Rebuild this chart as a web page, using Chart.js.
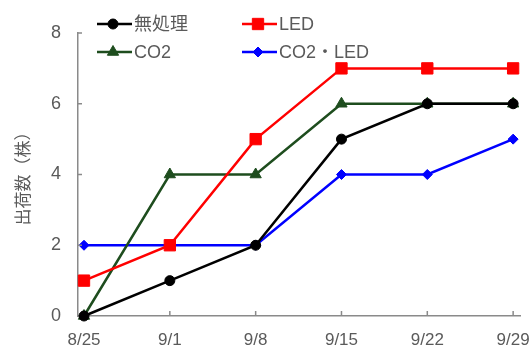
<!DOCTYPE html>
<html>
<head>
<meta charset="utf-8">
<script src="https://cdn.jsdelivr.net/npm/chart.js@4/dist/chart.umd.min.js"></script>
<style>
  html, body { margin: 0; padding: 0; background: #fff; }
  #wrap { width: 532px; height: 347px; }
</style>
</head>
<body>
<div id="wrap"><canvas id="c" width="532" height="347"></canvas></div>
<script>
// Shipment dates (x axis)
const dates = ['8/25', '9/1', '9/8', '9/15', '9/22', '9/29'];
// Cumulative shipped plants per treatment
const untreated = [0, 1, 2, 5, 6, 6];
const led       = [1, 2, 5, 7, 7, 7];
const co2       = [0, 4, 4, 6, 6, 6];
const co2Led    = [2, 2, 2, 4, 4, 5];
// Y axis ticks
const yTicks = [0, 2, 4, 6, 8];

const toPoints = arr => arr.map((v, i) => ({ x: i, y: v }));

const series = [
  { label: '無処理',   data: untreated, color: '#000000', style: 'circle',   r: 5 },
  { label: 'LED',      data: led,       color: '#ff0000', style: 'rect',     r: 8 },
  { label: 'CO2',      data: co2,       color: '#1e4d1e', style: 'triangle', r: 6.5 },
  { label: 'CO2・LED', data: co2Led,    color: '#0000ff', style: 'rectRot',  r: 5 }
];

const AXIS = '#8a8a8a';
const TEXT = '#5a5a5a';
const FONT = '"Liberation Sans", Arial, "Noto Sans CJK JP", sans-serif';

// Legend in two rows of two, drawn on the canvas above the plot
const legendPlugin = {
  id: 'gridLegend',
  afterDraw(chart) {
    const ctx = chart.ctx;
    const slots = [
      { x: 97,  y: 24 }, { x: 242, y: 24 },
      { x: 97,  y: 52 }, { x: 242, y: 52 }
    ];
    chart.data.datasets.forEach((ds, i) => {
      const s = slots[i];
      ctx.save();
      ctx.strokeStyle = ds.borderColor;
      ctx.fillStyle = ds.borderColor;
      ctx.lineWidth = 2.5;
      ctx.beginPath();
      ctx.moveTo(s.x, s.y);
      ctx.lineTo(s.x + 35, s.y);
      ctx.stroke();
      ctx.lineWidth = 1;
      Chart.helpers.drawPoint(ctx, {
        pointStyle: ds.pointStyle,
        radius: ds.pointRadius,
        borderWidth: 1
      }, s.x + 16, s.y);
      ctx.fillStyle = TEXT;
      ctx.font = '18px ' + FONT;
      ctx.textBaseline = 'middle';
      ctx.textAlign = 'left';
      ctx.fillText(ds.label, s.x + 37, s.y + 1);
      ctx.restore();
    });
  }
};

// Short inward tick marks on both axes
const innerTicks = {
  id: 'innerTicks',
  afterDraw(chart) {
    const ctx = chart.ctx;
    const xs = chart.scales.x, ys = chart.scales.y;
    const a = chart.chartArea;
    ctx.save();
    ctx.strokeStyle = AXIS;
    ctx.lineWidth = 1.5;
    ys.ticks.forEach(t => {
      if (t.value === 0) return;
      const py = ys.getPixelForValue(t.value);
      ctx.beginPath();
      ctx.moveTo(a.left, py);
      ctx.lineTo(a.left + 4, py);
      ctx.stroke();
    });
    xs.ticks.forEach(t => {
      if (t.value === 0) return;
      const px = xs.getPixelForValue(t.value);
      ctx.beginPath();
      ctx.moveTo(px, a.bottom);
      ctx.lineTo(px, a.bottom - 5);
      ctx.stroke();
    });
    ctx.restore();
  }
};

new Chart(document.getElementById('c'), {
  type: 'line',
  data: {
    datasets: series.map(s => ({
      label: s.label,
      data: toPoints(s.data),
      borderColor: s.color,
      backgroundColor: s.color,
      pointBackgroundColor: s.color,
      pointBorderColor: s.color,
      pointStyle: s.style,
      pointRadius: s.r,
      pointHoverRadius: s.r,
      pointBorderWidth: 1,
      borderWidth: 2.5,
      tension: 0,
      clip: false
    }))
  },
  options: {
    responsive: false,
    animation: false,
    events: [],
    layout: { padding: { top: 33, right: 12, left: 8, bottom: 0 } },
    plugins: { legend: { display: false }, tooltip: { enabled: false } },
    scales: {
      x: {
        type: 'linear',
        min: -0.07,
        max: 5.08,
        border: { color: AXIS, width: 1.5 },
        grid: { display: false, drawTicks: false },
        afterFit: scale => {
          scale.height = 31;
          scale.paddingLeft = 0;
          scale.paddingRight = 0;
        },
        ticks: {
          stepSize: 1,
          includeBounds: false,
          autoSkip: false,
          maxRotation: 0,
          padding: 14,
          color: TEXT,
          font: { family: FONT, size: 17 },
          callback: v => dates[v] ?? ''
        }
      },
      y: {
        min: 0,
        max: 8,
        border: { color: AXIS, width: 1.5 },
        grid: { display: false, drawTicks: false },
        afterBuildTicks: scale => { scale.ticks = yTicks.map(v => ({ value: v })); },
        afterFit: scale => {
          scale.width = 70;
          scale.paddingTop = 0;
          scale.paddingBottom = 0;
        },
        ticks: {
          padding: 17,
          color: TEXT,
          font: { family: FONT, size: 18 }
        },
        title: {
          display: true,
          text: '出荷数（株）',
          color: TEXT,
          padding: { top: 4, bottom: 0 },
          font: { family: '"Noto Sans CJK JP", sans-serif', size: 17 }
        }
      }
    }
  },
  plugins: [innerTicks, legendPlugin]
});
</script>
</body>
</html>
